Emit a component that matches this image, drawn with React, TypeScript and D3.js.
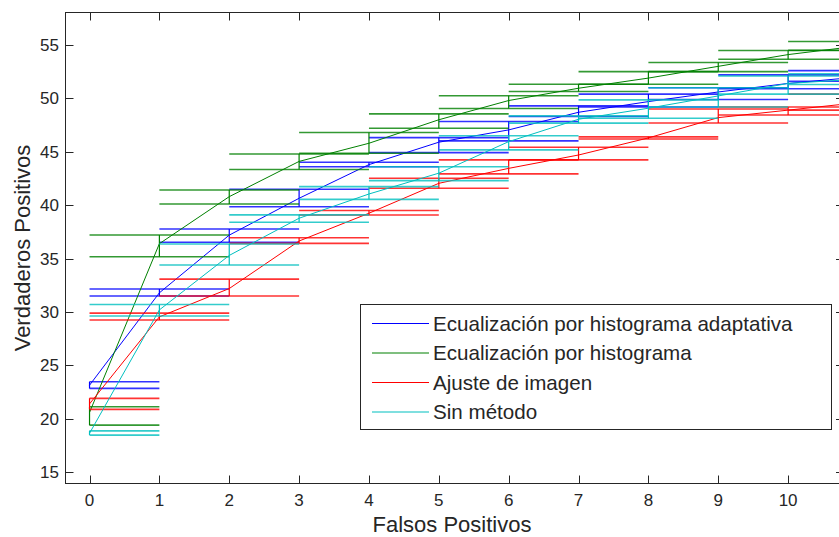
import { useEffect, useRef } from 'react';
import * as d3 from 'd3';

// Falsos positivos (x) and the curves
const falsePositives = [0, 1, 2, 3, 4, 5, 6, 7, 8, 9, 10, 11];
const xTickValues = [0, 1, 2, 3, 4, 5, 6, 7, 8, 9, 10];
const yTickValues = [15, 20, 25, 30, 35, 40, 45, 50, 55];

const seriesNames = [
  'Ecualización por histograma adaptativa',
  'Ecualización por histograma',
  'Ajuste de imagen',
  'Sin método',
];
const seriesColors = ['#0000ff', '#008000', '#ff0000', '#00bfbf'];

const adaptiveMean = [23.15, 31.8, 37.2, 40.65, 43.8, 45.9, 47.05, 48.7, 49.7, 50.6, 51.4, 52.0];
const adaptiveUpper = [23.47, 32.15, 37.78, 41.49, 44.02, 46.33, 47.83, 49.3, 50.4, 51.0, 52.2, 52.6];
const adaptiveLower = [22.85, 31.5, 36.53, 39.86, 43.6, 44.92, 46.02, 48.3, 49.2, 49.9, 50.9, 51.6];

const histMean = [20.6, 36.4, 40.8, 44.1, 45.8, 48.0, 49.8, 50.95, 51.9, 53.0, 54.1, 54.9];
const histUpper = [21.13, 37.21, 41.43, 44.8, 46.8, 48.55, 50.25, 51.33, 52.51, 53.36, 54.48, 55.32];
const histLower = [19.41, 35.18, 40.12, 43.35, 44.86, 47.2, 49.05, 50.64, 51.33, 52.51, 53.67, 54.5];

const adjustMean = [21.4, 29.55, 32.2, 36.65, 39.25, 42.05, 43.45, 44.7, 46.3, 48.2, 48.9, 49.6];
const adjustUpper = [21.92, 29.9, 33.08, 36.96, 39.5, 42.52, 44.24, 45.43, 46.4, 49.0, 49.2, 50.4];
const adjustLower = [20.89, 29.25, 31.5, 36.43, 39.09, 41.59, 42.93, 44.24, 46.2, 47.7, 48.45, 48.9];

const noneMean = [18.65, 30.2, 35.3, 38.78, 41.05, 43.0, 45.95, 48.05, 49.08, 50.23, 51.4, 51.8];
const noneUpper = [18.88, 30.7, 36.37, 39.1, 41.74, 43.6, 46.5, 48.36, 49.86, 51.0, 52.1, 52.3];
const noneLower = [18.48, 29.63, 34.4, 38.4, 40.55, 42.3, 45.18, 47.68, 48.14, 49.2, 50.4, 51.3];

const FONT = '"Liberation Sans", Arial, Helvetica, sans-serif';

export default function App() {
  const svgRef = useRef<SVGSVGElement | null>(null);

  useEffect(() => {
    if (!svgRef.current) return;

    const width = 839;
    const height = 537;
    const left = 65.5;
    const top = 12.5;
    const bottom = 483.5;
    const right = 844;

    const svg = d3.select(svgRef.current);
    svg.selectAll('*').remove();
    svg.attr('width', width).attr('height', height);

    const x = d3.scaleLinear().domain([-0.344, 10.8]).range([left, right]);
    const y = d3.scaleLinear().domain([13.95, 58.04]).range([bottom, top]);

    svg.append('rect').attr('width', width).attr('height', height).attr('fill', '#fff');

    svg
      .append('clipPath')
      .attr('id', 'plot-clip')
      .append('rect')
      .attr('x', left)
      .attr('y', top)
      .attr('width', right - left)
      .attr('height', bottom - top);

    const series = [
      { mean: adaptiveMean, upper: adaptiveUpper, lower: adaptiveLower },
      { mean: histMean, upper: histUpper, lower: histLower },
      { mean: adjustMean, upper: adjustUpper, lower: adjustLower },
      { mean: noneMean, upper: noneUpper, lower: noneLower },
    ];

    const plot = svg.append('g').attr('clip-path', 'url(#plot-clip)');
    const xMin = falsePositives[0];
    const xMax = falsePositives[falsePositives.length - 1];

    series.forEach((s, k) => {
      const color = seriesColors[k];
      const g = plot.append('g');

      // error bars: wide caps + vertical stem
      falsePositives.forEach((fp, i) => {
        const x1 = x(Math.max(xMin, fp - 1));
        const x2 = x(Math.min(xMax, fp + 1));
        [s.upper[i], s.lower[i]].forEach((v) => {
          g.append('line')
            .attr('x1', x1)
            .attr('x2', x2)
            .attr('y1', y(v))
            .attr('y2', y(v))
            .attr('stroke', color)
            .attr('stroke-opacity', 0.8)
            .attr('stroke-width', 1.6);
        });
        g.append('line')
          .attr('x1', x(fp))
          .attr('x2', x(fp))
          .attr('y1', y(s.lower[i]))
          .attr('y2', y(s.upper[i]))
          .attr('stroke', color)
          .attr('stroke-width', 1.2);
      });

      const line = d3
        .line<number>()
        .x((_, i) => x(falsePositives[i]))
        .y((d) => y(d));

      g.append('path')
        .attr('d', line(s.mean))
        .attr('fill', 'none')
        .attr('stroke', color)
        .attr('stroke-width', 1);
    });

    // axes box and ticks (MATLAB style, ticks inside on all four sides)
    const axisColor = '#262626';
    const tickLen = 8;
    const axes = svg.append('g').attr('stroke', axisColor).attr('stroke-width', 1);

    axes
      .append('rect')
      .attr('x', left)
      .attr('y', top)
      .attr('width', right - left)
      .attr('height', bottom - top)
      .attr('fill', 'none');

    xTickValues.forEach((t) => {
      const px = Math.round(x(t)) + 0.5;
      axes.append('line').attr('x1', px).attr('x2', px).attr('y1', bottom).attr('y2', bottom - tickLen);
      axes.append('line').attr('x1', px).attr('x2', px).attr('y1', top).attr('y2', top + tickLen);
    });
    yTickValues.forEach((t) => {
      const py = Math.round(y(t)) + 0.5;
      axes.append('line').attr('x1', left).attr('x2', left + tickLen).attr('y1', py).attr('y2', py);
      axes.append('line').attr('x1', right).attr('x2', right - tickLen).attr('y1', py).attr('y2', py);
    });

    const labels = svg
      .append('g')
      .style('font-family', FONT)
      .attr('fill', '#262626');

    xTickValues.forEach((t) => {
      labels
        .append('text')
        .attr('x', x(t))
        .attr('y', 506)
        .attr('text-anchor', 'middle')
        .style('font-size', '17px')
        .text(t);
    });
    yTickValues.forEach((t) => {
      labels
        .append('text')
        .attr('x', 59)
        .attr('y', y(t))
        .attr('dy', '0.35em')
        .attr('text-anchor', 'end')
        .style('font-size', '17px')
        .text(t);
    });

    labels
      .append('text')
      .attr('x', 452)
      .attr('y', 532)
      .attr('text-anchor', 'middle')
      .style('font-size', '22px')
      .text('Falsos Positivos');

    labels
      .append('text')
      .attr('transform', `translate(30,${(top + bottom) / 2}) rotate(-90)`)
      .attr('text-anchor', 'middle')
      .style('font-size', '22px')
      .text('Verdaderos Positivos');

    // legend
    const lg = svg.append('g');
    lg.append('rect')
      .attr('x', 360.5)
      .attr('y', 304.5)
      .attr('width', 471)
      .attr('height', 125)
      .attr('fill', '#fff')
      .attr('stroke', axisColor)
      .attr('stroke-width', 1);

    seriesNames.forEach((name, i) => {
      const ly = 323.5 + i * 29.5;
      lg.append('line')
        .attr('x1', 372)
        .attr('x2', 429)
        .attr('y1', ly)
        .attr('y2', ly)
        .attr('stroke', seriesColors[i])
        .attr('stroke-width', 1.2);
      lg.append('text')
        .attr('x', 433)
        .attr('y', ly)
        .attr('dy', '0.35em')
        .style('font-family', FONT)
        .style('font-size', '20.6px')
        .attr('fill', '#262626')
        .text(name);
    });
  }, []);

  return <svg ref={svgRef} style={{ position: 'absolute', left: 0, top: 0 }} />;
}
